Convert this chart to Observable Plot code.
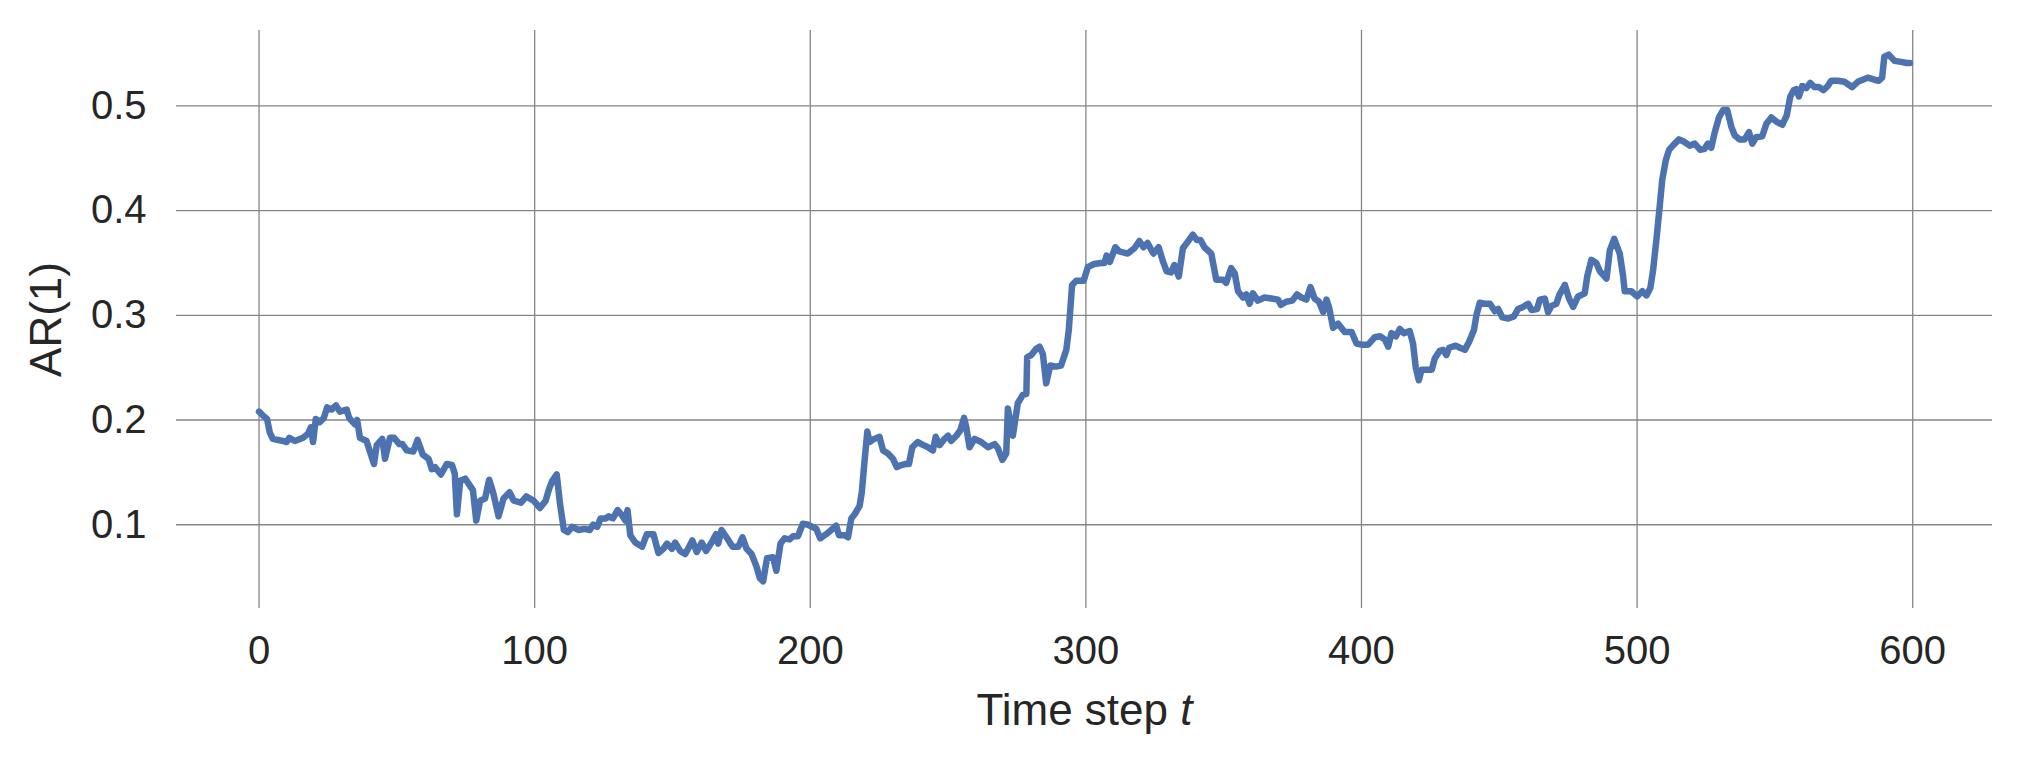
<!DOCTYPE html>
<html>
<head>
<meta charset="utf-8">
<script src="https://cdn.jsdelivr.net/npm/d3@7"></script>
<script src="https://cdn.jsdelivr.net/npm/@observablehq/plot@0.6"></script>
<style>
  html, body { margin: 0; padding: 0; background: #ffffff; }
  #chart svg { display: block; }
</style>
</head>
<body>
<div id="chart"></div>
<script>
// Time step values
const timeSteps = [
  0, 1.5, 2.9, 3.9, 5, 8.7, 10, 11, 13, 16, 17.8, 18.8, 19.6, 20.6, 22, 23.5, 24.7, 26.3, 27.9, 29.3,
  31.8, 32.7, 34.8, 35.6, 36.6, 39, 41.7, 42.7, 44.7, 45.7, 47.5, 49, 50.9, 52, 53.6, 56, 57.5, 59.4,
  61.5, 62.7, 63.9, 66, 68.1, 70, 71, 71.8, 73, 74.8, 77.6, 78.8, 80.2, 82, 83.5, 85, 86.9, 88.7,
  90.9, 92.4, 95, 97, 99.6, 101.9, 104, 105.2, 106.4, 108, 109.2, 110.6, 112, 113.6, 116, 118, 120,
  121.2, 122.7, 123.9, 125.7, 126.9, 128.4, 130.1, 131.7, 132.9, 133.7, 134.7, 136.5, 139, 140.7,
  143.1, 144.9, 146.7, 148, 149.8, 151, 152.8, 154.6, 156.1, 157.2, 158.8, 160.6, 162.2, 164.2,
  165.8, 166.6, 167.8, 169.6, 171.8, 173.9, 175.4, 176.9, 178.7, 180.5, 181.7, 182.9, 184.3, 186.5,
  187.7, 189.2, 190.7, 192.5, 193.7, 195.5, 197.3, 199.2, 202.2, 203.6, 205.8, 207.6, 209.4, 210.4,
  212.5, 213.7, 214.9, 216.1, 217.9, 218.7, 219.7, 220.7, 221.5, 223.3, 225.1, 226.4, 228.2, 230,
  231.4, 233, 234.6, 235.8, 237, 239, 240.3, 242.7, 244.5, 245.5, 246.9, 248.7, 250, 251.1, 253,
  254.4, 255.8, 256.6, 257.8, 259.6, 262, 264.5, 266.9, 268.1, 269.7, 271.1, 271.7, 273.5, 275.3,
  277.1, 278.4, 278.7, 280.2, 282, 283.2, 284.4, 285.6, 287.1, 289.2, 291, 292.9, 293.8, 295, 296.5,
  299.2, 300.7, 303, 305.5, 306.7, 307.5, 308.7, 310.7, 312.1, 315.2, 317.6, 319.4, 320.9, 322.4,
  324.5, 326.4, 327.9, 329.3, 330.9, 332.1, 333.7, 335.2, 336.6, 338.8, 340.3, 341.6, 343, 345.5,
  347.3, 349.7, 350.9, 352.7, 354, 355.2, 357, 358.2, 359.4, 360.6, 362.4, 364.8, 367.3, 369.7,
  370.7, 372.7, 374.9, 376.6, 378.2, 380, 381.5, 383, 384.6, 386.1, 387.3, 388.2, 389.7, 391.5,
  393.9, 396.4, 398.2, 400, 402.4, 404.8, 406.7, 408.5, 409.7, 410.9, 412.5, 413.9, 415.4, 417.5,
  418.7, 419.7, 420.8, 421.8, 423.6, 425.5, 426.6, 428.4, 429.6, 430.8, 431.8, 434.2, 435.7, 437.5,
  439.1, 440.8, 441.7, 442.9, 444.7, 446.6, 448.4, 449.6, 451.1, 453.2, 455.3, 456.8, 458.6, 460.5,
  461.7, 463.7, 464.7, 466.5, 467.7, 468.9, 470.7, 471.7, 473.8, 475.3, 476.8, 478.6, 481, 481.9,
  483.4, 485.2, 486.5, 488.9, 490.1, 491.7, 493.7, 494.9, 495.5, 497.9, 500, 501.9, 503.4, 504.8,
  505.8, 507, 508.2, 509.1, 510.4, 511.6, 513.3, 515.2, 516.9, 519.1, 520.9, 522.9, 524.5, 525.7,
  526.9, 528.1, 529.7, 531.2, 532.7, 534.2, 535.4, 537.2, 539, 540.6, 541.8, 543.2, 545.4, 546.9,
  548.7, 550.5, 552.7, 554.3, 555.6, 556.8, 557.7, 558.7, 559.9, 561.4, 562.8, 564.4, 566, 567.6,
  569.2, 570.4, 572.8, 575.2, 578, 580.1, 581.9, 583.7, 586.1, 587.7, 588.9, 589.7, 591.3, 593.4,
  595.8, 597.8, 599
];

// AR(1) values
const ar1 = [
  0.208, 0.204, 0.201, 0.188, 0.182, 0.180, 0.179, 0.183, 0.180, 0.183, 0.187, 0.193, 0.179, 0.201, 0.198, 0.202, 0.212, 0.210, 0.214, 0.208,
  0.210, 0.202, 0.196, 0.200, 0.183, 0.180, 0.158, 0.176, 0.182, 0.163, 0.183, 0.183, 0.177, 0.177, 0.171, 0.170, 0.181, 0.167,
  0.163, 0.153, 0.155, 0.148, 0.158, 0.157, 0.149, 0.110, 0.142, 0.144, 0.133, 0.104, 0.123, 0.125, 0.143, 0.130, 0.108, 0.125,
  0.131, 0.123, 0.121, 0.127, 0.123, 0.116, 0.123, 0.134, 0.142, 0.148, 0.120, 0.095, 0.093, 0.098, 0.095, 0.096, 0.095,
  0.100, 0.098, 0.106, 0.106, 0.108, 0.106, 0.114, 0.109, 0.104, 0.114, 0.090, 0.083, 0.079, 0.091,
  0.091, 0.073, 0.077, 0.082, 0.077, 0.083, 0.075, 0.072, 0.079, 0.085, 0.074, 0.083, 0.075, 0.083,
  0.091, 0.082, 0.095, 0.088, 0.079, 0.079, 0.088, 0.077, 0.072, 0.060, 0.049, 0.046, 0.068, 0.069,
  0.056, 0.082, 0.087, 0.086, 0.089, 0.089, 0.101, 0.100, 0.096, 0.087, 0.091, 0.095, 0.099, 0.090,
  0.090, 0.088, 0.106, 0.110, 0.118, 0.131, 0.161, 0.189, 0.179, 0.182, 0.184, 0.171, 0.168, 0.163,
  0.155, 0.157, 0.158, 0.158, 0.174, 0.179, 0.177, 0.174, 0.171, 0.184, 0.176, 0.182, 0.185, 0.180, 0.185,
  0.190, 0.202, 0.193, 0.174, 0.182, 0.179, 0.174, 0.177, 0.173, 0.162, 0.168, 0.211, 0.185, 0.216,
  0.224, 0.225, 0.260, 0.262, 0.268, 0.270, 0.263, 0.235, 0.252, 0.251, 0.252, 0.267, 0.286, 0.329, 0.333,
  0.333, 0.346, 0.349, 0.350, 0.350, 0.357, 0.351, 0.365, 0.361, 0.359, 0.364, 0.371, 0.365, 0.369,
  0.359, 0.365, 0.352, 0.342, 0.341, 0.348, 0.337, 0.364, 0.369, 0.377, 0.372, 0.372, 0.365, 0.359,
  0.334, 0.334, 0.331, 0.345, 0.340, 0.323, 0.317, 0.320, 0.311, 0.321, 0.314, 0.317, 0.316, 0.315,
  0.310, 0.313, 0.314, 0.320, 0.317, 0.315, 0.327, 0.316, 0.313, 0.303, 0.315, 0.308, 0.288, 0.292,
  0.284, 0.284, 0.273, 0.272, 0.272, 0.279, 0.280, 0.277, 0.270, 0.283, 0.280, 0.287, 0.283, 0.285,
  0.273, 0.250, 0.238, 0.248, 0.248, 0.248, 0.259, 0.266, 0.267, 0.262, 0.269, 0.271, 0.269, 0.267,
  0.275, 0.286, 0.300, 0.312, 0.311, 0.311, 0.304, 0.306, 0.298, 0.297, 0.299, 0.306, 0.308, 0.311,
  0.305, 0.306, 0.315, 0.316, 0.303, 0.309, 0.311, 0.319, 0.329, 0.316, 0.308, 0.318, 0.321, 0.337,
  0.353, 0.350, 0.342, 0.335, 0.362, 0.373, 0.359, 0.338, 0.323, 0.323, 0.318, 0.323, 0.319, 0.326,
  0.343, 0.372, 0.404, 0.429, 0.448, 0.458, 0.463, 0.468, 0.466, 0.462, 0.464, 0.458, 0.459, 0.464,
  0.460, 0.474, 0.489, 0.496, 0.496, 0.480, 0.472, 0.468, 0.468, 0.475, 0.464, 0.470, 0.471, 0.483,
  0.489, 0.485, 0.482, 0.491, 0.509, 0.515, 0.516, 0.509, 0.519, 0.517, 0.522, 0.518, 0.518, 0.515,
  0.519, 0.524, 0.524, 0.523, 0.518, 0.523, 0.525, 0.527, 0.525, 0.524, 0.527, 0.547, 0.549, 0.543,
  0.542, 0.541, 0.541
];

// Tick values and labels
const xTicks = [0, 100, 200, 300, 400, 500, 600];
const yTicks = [0.1, 0.2, 0.3, 0.4, 0.5];
const xLabelText = "Time step ";
const xLabelItalic = "t";
const yLabelText = "AR(1)";

const data = timeSteps.map((t, i) => ({t, v: ar1[i]}));

const gridStyle = {stroke: "#858585", strokeOpacity: 1, strokeWidth: 1.3};

const chart = Plot.plot({
  width: 2019,
  height: 767,
  marginLeft: 176,
  marginRight: 27,
  marginTop: 30,
  marginBottom: 159,
  x: {domain: [-29.95, 628.95]},
  y: {domain: [0.020, 0.572]},
  style: {
    fontFamily: "'Liberation Sans', Arial, Helvetica, sans-serif",
    fontSize: "40px",
    color: "#262626",
    background: "#ffffff"
  },
  marks: [
    Plot.gridX(xTicks, gridStyle),
    Plot.gridY(yTicks, gridStyle),
    Plot.axisX(xTicks, {
      tickSize: 0, tickPadding: 27, fontSize: 40,
      label: xLabelText + xLabelItalic, labelAnchor: "center", labelArrow: "none", labelOffset: 116
    }),
    Plot.axisY(yTicks, {
      tickSize: 0, tickPadding: 30, fontSize: 40, tickFormat: d3.format(".1f"),
      label: yLabelText, labelAnchor: "center", labelArrow: "none", labelOffset: 147
    }),
    Plot.lineY(data, {
      x: "t", y: "v", stroke: "#4c72b0", strokeWidth: 6.5,
      strokeLinejoin: "round", strokeLinecap: "round"
    })
  ]
});

document.getElementById("chart").appendChild(chart);

// Axis label styling: larger font, italic "t"
const svg = d3.select(chart);
svg.selectAll('g[aria-label="x-axis label"] text').each(function () {
  const el = d3.select(this);
  el.attr("font-size", "44px");
  el.text(null);
  el.append("tspan").text(xLabelText);
  el.append("tspan").attr("font-style", "italic").text(xLabelItalic);
});
svg.selectAll('g[aria-label="y-axis label"] text').attr("font-size", "44px");
</script>
</body>
</html>
